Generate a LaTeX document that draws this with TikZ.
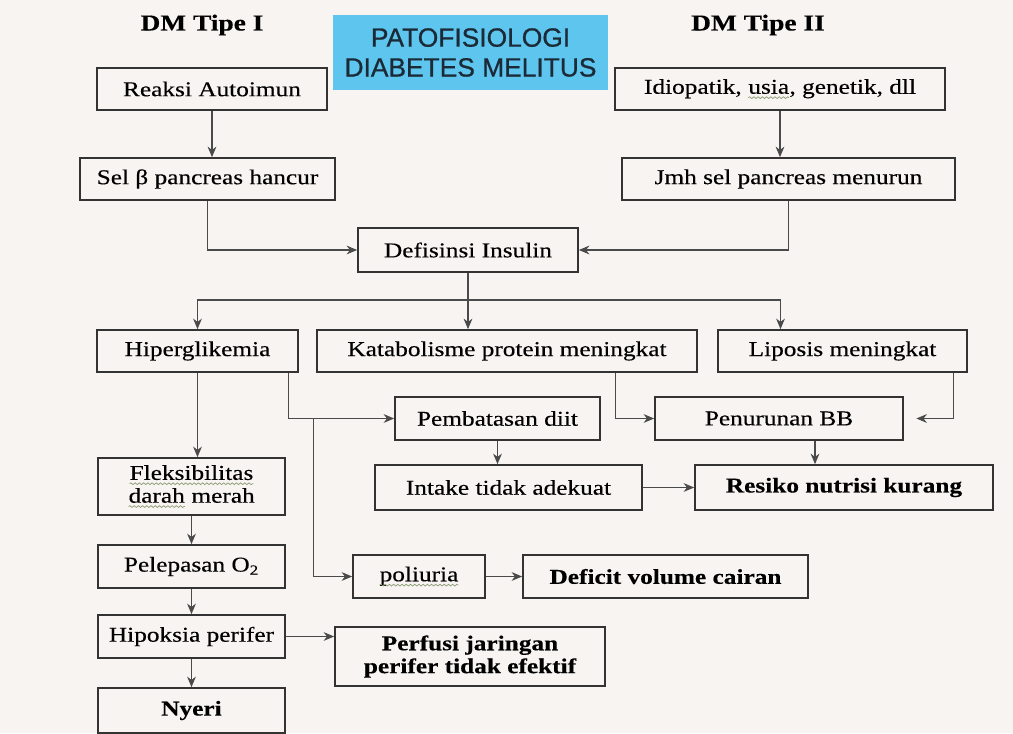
\documentclass[tikz,border=0pt]{standalone}
\usepackage{fontspec}
\setmainfont{Liberation Serif}[FakeStretch=1.2,FakeBold=0.3]
\newfontfamily\titlefont{Liberation Sans}[FakeBold=0.8]
\usepackage{tikz}
\usetikzlibrary{arrows,arrows.meta,positioning,calc,decorations.pathmorphing}
\definecolor{bgpaper}{HTML}{F7F4F2}
\definecolor{titleblue}{HTML}{5EC6EE}
\definecolor{titleink}{HTML}{1B2A36}
\definecolor{boxline}{HTML}{333333}
\definecolor{wireline}{HTML}{4A4A4A}
\definecolor{squiggle}{HTML}{8C9A72}
% wavy spell-check line under a word
\newcommand{\squig}[1]{\tikz[baseline=(w.base)]{\node[draw=none,fill=none,inner sep=0pt,outer sep=0pt,minimum width=0pt,minimum height=0pt] (w) {#1};
\draw[-,squiggle,line width=0.4pt,decorate,decoration={snake,amplitude=0.5pt,segment length=2.4pt}] ([yshift=-2.2pt]w.base west)--([yshift=-2.2pt]w.base east);}}

\begin{document}
\begin{tikzpicture}[>={Stealth[length=6pt,width=5pt]},
box/.style={draw=boxline,line width=1pt,rectangle,fill=bgpaper,minimum height=8.6mm,inner sep=2pt,align=center,font=\fontsize{12}{14}\selectfont},
boldbox/.style={box,font=\fontsize{12}{14}\selectfont\bfseries},
wire/.style={->,draw=wireline,line width=0.6pt}]

\fill[bgpaper] (0,0) rectangle (20.26,-14.66);
\useasboundingbox (0,0) rectangle (20.26,-14.66);

% headings
\node (head_I) at (4.04,-0.5) {\fontsize{13}{15}\selectfont\bfseries DM Tipe I};
\node (head_II) at (15.16,-0.5) {\fontsize{13}{15}\selectfont\bfseries DM Tipe II};
\node (title) [rectangle,fill=titleblue,minimum width=5.5cm,minimum height=1.5cm,align=center,text=titleink,font=\titlefont\fontsize{15}{17}\selectfont] at (9.41,-1.05) {PATOFISIOLOGI\\DIABETES MELITUS};

% DM tipe I / II
\node (Reaksi) [box,minimum width=4.6cm,minimum height=8.4mm] at (4.24,-1.78) {Reaksi Autoimun};
\node (Idiopatik) [box,minimum width=6.6cm,minimum height=8.4mm] at (15.6,-1.78) {Idiopatik, \squig{usia}, genetik, dll};
\node (Sel_beta) [box,minimum width=5.1cm,minimum height=8.4mm] at (4.15,-3.58) {Sel β pancreas hancur};
\node (Jmh_sel) [box,minimum width=6.66cm,minimum height=8.4mm] at (15.77,-3.58) {Jmh sel pancreas menurun};
\node (Defisinsi) [box,minimum width=4.4cm,minimum height=8.8mm] at (9.36,-5.0) {Defisinsi Insulin};

% akibat
\node (Hiper) [box,minimum width=4.02cm,minimum height=8.4mm] at (3.95,-7.02) {Hiperglikemia};
\node (Katabolisme) [box,minimum width=7.6cm,minimum height=8.4mm] at (10.14,-7.02) {Katabolisme protein meningkat};
\node (Liposis) [box,minimum width=4.98cm,minimum height=8.4mm] at (16.85,-7.02) {Liposis meningkat};
\node (Pembatasan) [box,minimum width=4.1cm] at (9.95,-8.37) {Pembatasan diit};
\node (Penurunan) [box,minimum width=4.96cm] at (15.58,-8.37) {Penurunan BB};
\node (Intake) [box,minimum width=5.34cm,minimum height=9mm] at (10.17,-9.75) {Intake tidak adekuat};
\node (Resiko) [boldbox,minimum width=5.96cm,minimum height=9mm] at (16.88,-9.75) {Resiko nutrisi kurang};

% jalur hiperglikemia
\node (Fleksibilitas) [box,minimum width=3.74cm,minimum height=11.4mm,font=\fontsize{12}{13}\selectfont] at (3.83,-9.73) {\squig{Fleksibilitas}\\\squig{darah} merah};
\node (Pelepasan) [box,minimum width=3.74cm] at (3.83,-11.33) {Pelepasan O\textsubscript{2}};
\node (Hipoksia) [box,minimum width=3.74cm] at (3.83,-12.73) {Hipoksia perifer};
\node (Nyeri) [boldbox,minimum width=3.74cm,minimum height=9mm] at (3.83,-14.21) {Nyeri};
\node (Poliuria) [box,minimum width=2.64cm] at (8.38,-11.53) {\squig{poliuria}};
\node (Deficit) [boldbox,minimum width=5.7cm] at (13.31,-11.53) {Deficit volume cairan};
\node (Perfusi) [boldbox,minimum width=5.4cm,minimum height=11.8mm,font=\fontsize{12}{13}\selectfont\bfseries] at (9.4,-13.13) {Perfusi jaringan\\perifer tidak efektif};

% cabang
\coordinate (split) at (9.36,-6.0);
\coordinate (tap) at ($(Hiper.east |- Pembatasan.west)+(0.3,0)$);

\draw[wire] (Reaksi.south) -- (Reaksi.south |- Sel_beta.north);
\draw[wire] (Idiopatik.south) -- (Idiopatik.south |- Jmh_sel.north);
\draw[wire] (Sel_beta.south) |- (Defisinsi.west);
\draw[wire] (Jmh_sel.south) |- (Defisinsi.east);
\draw[wire] (Defisinsi.south) -- (Defisinsi.south |- Katabolisme.north);
\draw[wire] (split) -| (Hiper.north);
\draw[wire] (split) -| ([xshift=-1.24cm]Liposis.north);

\draw[wire] (Hiper.south) -- (Hiper.south |- Fleksibilitas.north);
\draw[wire] ([xshift=-0.2cm]Hiper.south east) |- (Pembatasan.west);
\draw[wire] (tap) |- (Poliuria.west);
\draw[wire] (Fleksibilitas) -- (Pelepasan);
\draw[wire] (Pelepasan) -- (Hipoksia);
\draw[wire] (Hipoksia) -- (Nyeri);
\draw[wire] (Hipoksia.east) -- (Hipoksia.east -| Perfusi.west);
\draw[wire] (Poliuria) -- (Deficit);

\draw[wire] (Pembatasan.south) -- (Pembatasan.south |- Intake.north);
\draw[wire] (Intake) -- (Resiko);
\draw[wire] ([xshift=-1.64cm]Katabolisme.south east) |- (Penurunan.west);
\draw[wire] ([xshift=-0.28cm]Liposis.south east) |- ([xshift=0.25cm]Penurunan.east);
\draw[wire] ([xshift=0.72cm]Penurunan.south) -- ([xshift=0.72cm]Penurunan.south |- Resiko.north);

\end{tikzpicture}
\end{document}
